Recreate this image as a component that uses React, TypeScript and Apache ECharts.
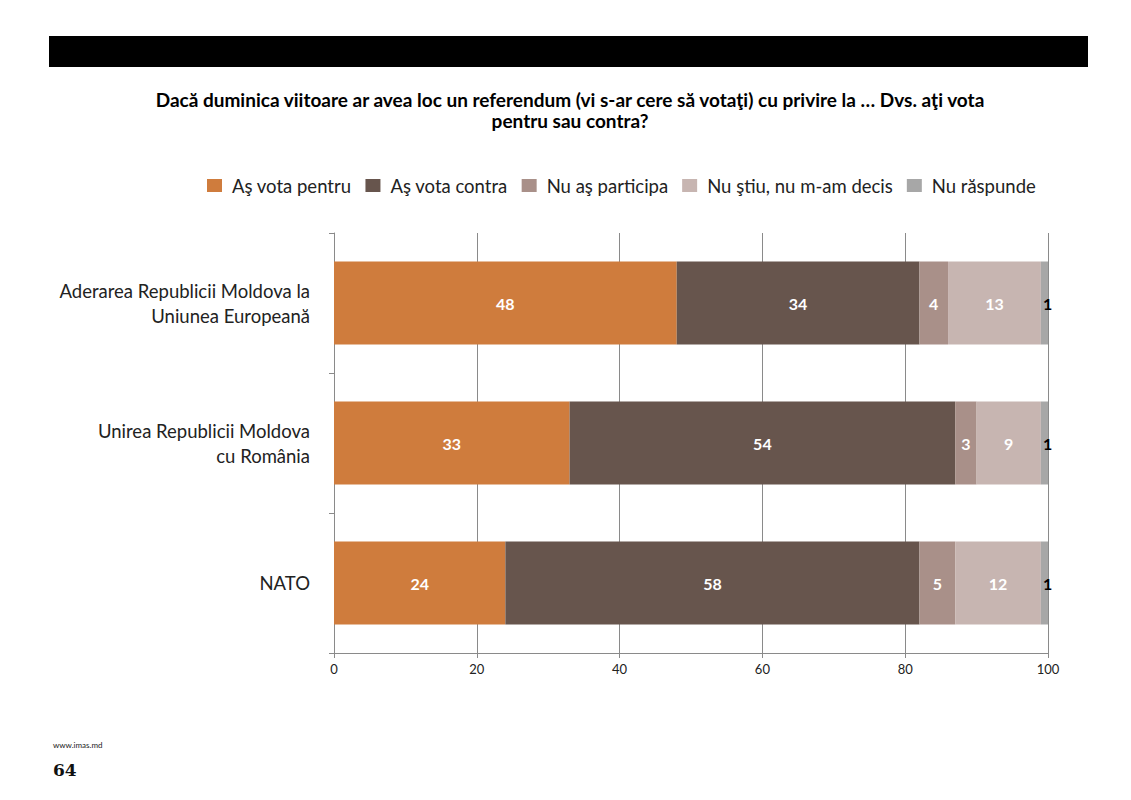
import React, { useEffect, useRef } from "react";
import * as echarts from "echarts";

const categories = [
  "Aderarea Republicii Moldova la\nUniunea Europeană",
  "Unirea Republicii Moldova\ncu România",
  "NATO",
];
const seriesNames = [
  "Aş vota pentru",
  "Aş vota contra",
  "Nu aş participa",
  "Nu ştiu, nu m-am decis",
  "Nu răspunde",
];
const votePentru = [48, 33, 24];
const voteContra = [34, 54, 58];
const nuParticipa = [4, 3, 5];
const nuStiu = [13, 9, 12];
const nuRaspunde = [1, 1, 1];
const xTicks = [0, 20, 40, 60, 80, 100];

const colors = ["#CF7C3D", "#67554D", "#A99089", "#C7B5B1", "#A7A7A7"];
const FONT = "Lato, 'Open Sans', sans-serif";

export default function App() {
  const ref = useRef<HTMLDivElement>(null);
  useEffect(() => {
    if (!ref.current) return;
    const chart = echarts.init(ref.current, null, { renderer: "svg" });
    const values = [votePentru, voteContra, nuParticipa, nuStiu, nuRaspunde];
    chart.setOption({
      animation: false,
      backgroundColor: "#ffffff",
      textStyle: { fontFamily: FONT },
      color: colors,
      graphic: [
        { type: "rect", shape: { x: 49, y: 36, width: 1039, height: 31 }, style: { fill: "#000" } },
        {
          type: "text",
          x: 570,
          y: 110,
          style: {
            text: "Dacă duminica viitoare ar avea loc un referendum (vi s-ar cere să votaţi) cu privire la … Dvs. aţi vota\npentru sau contra?",
            fontFamily: FONT,
            fontWeight: "bold",
            fontSize: 19,
            lineHeight: 21,
            fill: "#000",
            align: "center",
            verticalAlign: "middle",
          },
        },
        {
          type: "text",
          x: 53,
          y: 745,
          style: { text: "www.imas.md", fontFamily: FONT, fontSize: 8, fill: "#222", verticalAlign: "middle" },
        },
        {
          type: "text",
          x: 53,
          y: 770,
          style: {
            text: "64",
            fontFamily: "'DejaVu Serif', serif",
            fontWeight: "bold",
            fontSize: 17,
            fill: "#111",
            verticalAlign: "middle",
          },
        },
      ],
      legend: {
        top: 171,
        left: 202,
        itemWidth: 15,
        itemHeight: 13,
        itemGap: 14,
        icon: "rect",
        textStyle: { fontSize: 18.5, color: "#222", fontFamily: FONT, padding: [0, 0, 0, 5] },
        data: seriesNames,
      },
      grid: { left: 334, right: 83, top: 233, bottom: 147, containLabel: false },
      xAxis: {
        type: "value",
        min: 0,
        max: 100,
        interval: 20,
        axisLine: { show: true, lineStyle: { color: "#8a8a8a", width: 1 } },
        axisTick: { show: true, length: 5, lineStyle: { color: "#8a8a8a" } },
        splitLine: { show: true, lineStyle: { color: "#8a8a8a", width: 1 } },
        axisLabel: {
          fontSize: 13,
          color: "#222",
          margin: 9,
          fontFamily: FONT,
          formatter: (v: number) => (xTicks.includes(v) ? String(v) : ""),
        },
      },
      yAxis: {
        type: "category",
        inverse: true,
        data: categories,
        axisLine: { show: true, lineStyle: { color: "#8a8a8a", width: 1 } },
        axisTick: { show: true, length: 5, lineStyle: { color: "#8a8a8a" } },
        axisLabel: {
          fontSize: 18.5,
          color: "#222",
          margin: 24,
          lineHeight: 25,
          align: "right",
          fontFamily: FONT,
        },
      },
      series: seriesNames.map((name, i) => ({
        name,
        type: "bar",
        stack: "total",
        barWidth: 83,
        data: values[i],
        itemStyle: { color: colors[i] },
        label:
          i === 4
            ? {
                show: true,
                position: "right",
                distance: -5,
                color: "#000",
                fontWeight: "bold",
                fontSize: 16,
                fontFamily: FONT,
              }
            : {
                show: true,
                position: "inside",
                color: "#fff",
                fontWeight: "bold",
                fontSize: 16,
                fontFamily: FONT,
              },
      })),
    });
    return () => chart.dispose();
  }, []);
  return (
    <div
      ref={ref}
      style={{ position: "fixed", left: 0, top: 0, width: 1131, height: 800 }}
    />
  );
}
